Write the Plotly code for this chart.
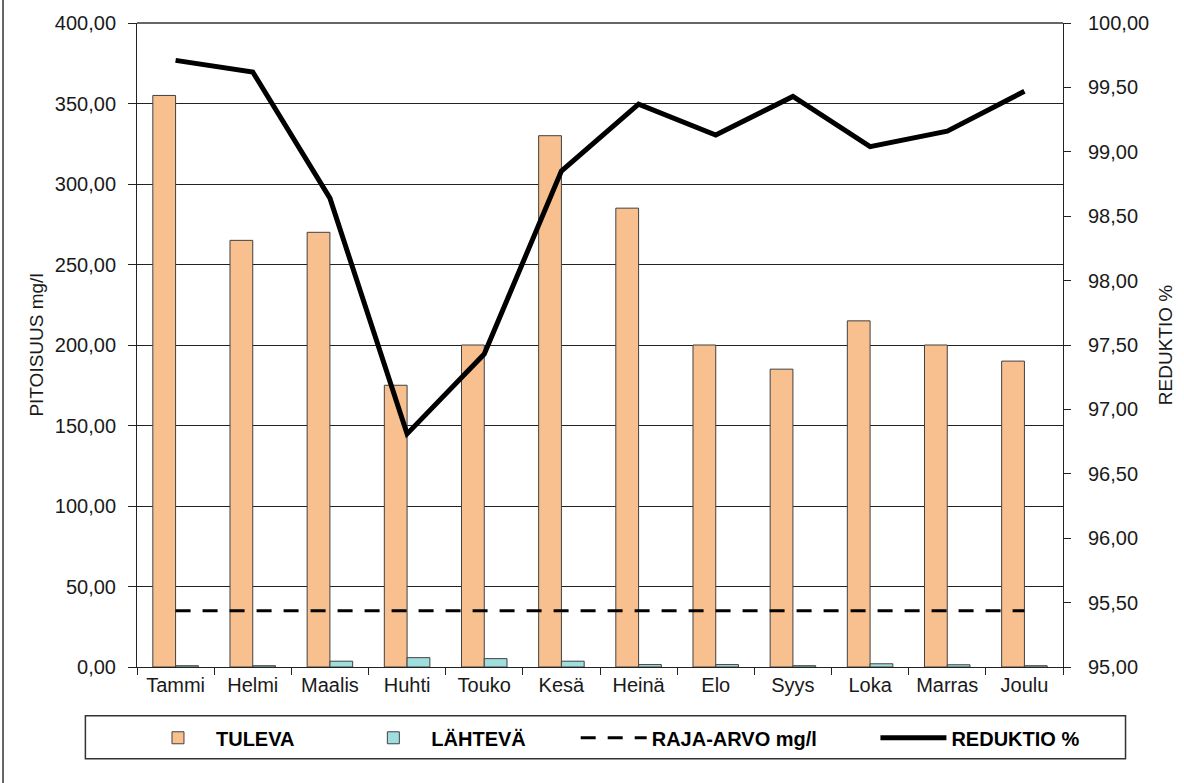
import plotly.graph_objects as go

# Monthly concentrations (mg/l) and reduction (%)
months = ["Tammi", "Helmi", "Maalis", "Huhti", "Touko", "Kesä",
          "Heinä", "Elo", "Syys", "Loka", "Marras", "Joulu"]
tuleva = [355, 265, 270, 175, 200, 330, 285, 200, 185, 215, 200, 190]
lahteva = [0.8, 0.8, 3.6, 5.8, 5.2, 3.6, 1.5, 1.5, 0.8, 2.0, 1.4, 0.8]
raja_arvo = [35] * 12
reduktio = [99.71, 99.62, 98.64, 96.81, 97.43, 98.85,
            99.37, 99.13, 99.43, 99.04, 99.16, 99.47]

left_ticks = [0, 50, 100, 150, 200, 250, 300, 350, 400]
right_ticks = [95.0, 95.5, 96.0, 96.5, 97.0, 97.5, 98.0, 98.5, 99.0, 99.5, 100.0]

FONT = "Liberation Sans, Arial, sans-serif"
LEGEND_FONT = "Liberation Sans Narrow, Arial Narrow, Liberation Sans, sans-serif"
TEXT = "#1a1a1a"
AXIS = "#222"

fig = go.Figure()
fig.add_trace(go.Bar(
    x=months, y=tuleva, name="TULEVA", legend="legend",
    marker=dict(color="#F9C08F", line=dict(color="#404040", width=1)),
))
fig.add_trace(go.Bar(
    x=months, y=lahteva, name="LÄHTEVÄ", legend="legend2",
    marker=dict(color="#A0DEDE", line=dict(color="#404040", width=1)),
))
fig.add_trace(go.Scatter(
    x=months, y=raja_arvo, name="RAJA-ARVO mg/l", mode="lines", legend="legend3",
    line=dict(color="black", width=3, dash="15px,12px"),
))
fig.add_trace(go.Scatter(
    x=months, y=reduktio, name="REDUKTIO %", mode="lines", yaxis="y2",
    legend="legend4",
    line=dict(color="black", width=5),
))

# plot area spans x 137..1070, y 21..667 (pixels)
W, H = 1184, 783
L, R, T, B = 137, 1070, 21, 667
pw, ph = R - L, B - T


def px(x):
    return (x - L) / pw


def py(y):
    return (B - y) / ph


ITEM_W = 66


def legend_at(x_left):
    return dict(
        orientation="h", x=px(x_left), xanchor="left",
        y=py(738), yanchor="middle",
        bgcolor="rgba(0,0,0,0)", borderwidth=0,
        font=dict(family=LEGEND_FONT, size=20, color="black", weight="bold"),
        itemwidth=ITEM_W,
    )


fig.update_layout(
    width=W, height=H,
    margin=dict(l=L, r=W - R, t=T, b=H - B),
    paper_bgcolor="white", plot_bgcolor="white",
    separators=",.",
    font=dict(family=FONT, size=20, color=TEXT),
    barmode="group", bargap=0.41, bargroupgap=0,
    xaxis=dict(
        range=[-0.5, len(months) - 0.5],
        showline=True, linecolor=AXIS, linewidth=1,
        ticks="outside", ticklen=7, tickcolor=AXIS, tickson="boundaries",
        tickfont=dict(size=20, family=FONT, color=TEXT),
        showgrid=False,
    ),
    yaxis=dict(
        range=[0, 400], tickvals=left_ticks, tickformat=".2f",
        showline=True, linecolor=AXIS, linewidth=1,
        ticks="outside", ticklen=8, tickcolor=AXIS,
        ticklabelstandoff=8,
        showgrid=True, gridcolor=AXIS, gridwidth=1,
        zeroline=False,
        tickfont=dict(size=20, family=FONT, color=TEXT),
        title=dict(text="PITOISUUS mg/l", standoff=6,
                   font=dict(size=19, family=FONT, color=TEXT)),
    ),
    yaxis2=dict(
        range=[95, 100], tickvals=right_ticks, tickformat=".2f",
        overlaying="y", side="right",
        showline=True, linecolor=AXIS, linewidth=1,
        ticks="outside", ticklen=7, tickcolor=AXIS,
        ticklabelstandoff=13,
        showgrid=False, zeroline=False,
        tickfont=dict(size=20, family=FONT, color=TEXT),
        title=dict(text="REDUKTIO %", standoff=10,
                   font=dict(size=19, family=FONT, color=TEXT)),
    ),
    # inner half of the cross-shaped ticks on the right axis
    yaxis3=dict(
        range=[95, 100], tickvals=right_ticks,
        overlaying="y", side="right", anchor="x",
        ticks="inside", ticklen=7, tickcolor=AXIS,
        showticklabels=False, showgrid=False, zeroline=False, showline=False,
    ),
    legend=legend_at(140),
    legend2=legend_at(357),
    legend3=legend_at(579),
    legend4=legend_at(881),
    showlegend=True,
    shapes=[
        # top edge of the plot area
        dict(type="line", xref="paper", yref="paper", x0=0, x1=1, y0=1, y1=1,
             line=dict(color="#666", width=2)),
        # legend frame
        dict(type="rect", xref="paper", yref="paper",
             x0=px(85), x1=px(1133), y0=py(759), y1=py(716),
             line=dict(color="#333", width=1.5), layer="below"),
        # outer chart border (left edge)
        dict(type="line", xref="paper", yref="paper",
             x0=px(2), x1=px(2), y0=py(-5), y1=py(790),
             line=dict(color="#333", width=1.5)),
    ],
)

fig.write_html("out.html")
